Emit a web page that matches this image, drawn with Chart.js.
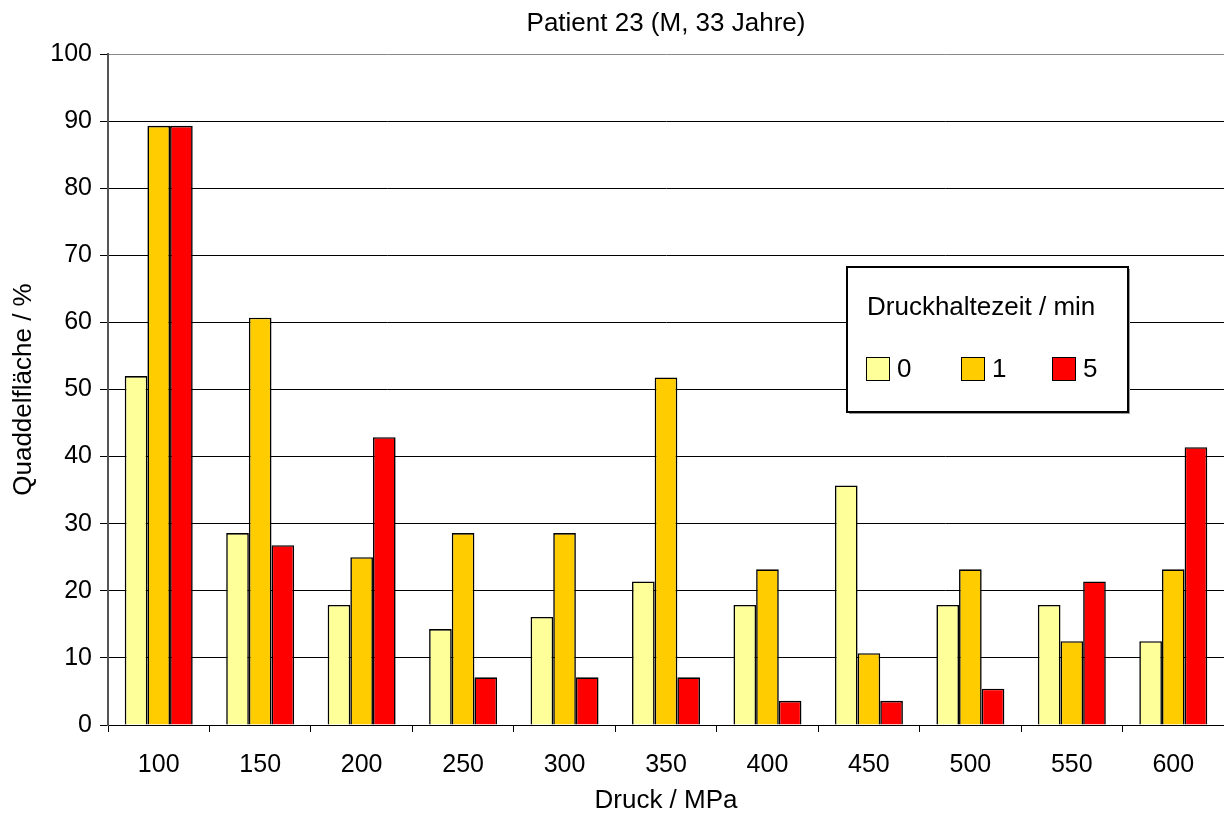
<!DOCTYPE html>
<html>
<head>
<meta charset="utf-8">
<script src="https://cdn.jsdelivr.net/npm/chart.js@4/dist/chart.umd.min.js"></script>
<style>
html,body{margin:0;padding:0;background:#fff;}
#wrap{width:1224px;height:814px;position:relative;}
</style>
</head>
<body>
<div id="wrap"><canvas id="c" width="1224" height="814"></canvas></div>
<script>
const categories = ['100','150','200','250','300','350','400','450','500','550','600'];
const series0 = [52.0, 28.6, 17.9, 14.3, 16.1, 21.4, 17.9, 35.7, 17.9, 17.9, 12.5];
const series1 = [89.3, 60.7, 25.0, 28.6, 28.6, 51.8, 23.2, 10.7, 23.2, 12.5, 23.2];
const series5 = [89.3, 26.8, 42.9, 7.1, 7.1, 7.1, 3.6, 3.6, 5.4, 21.4, 41.4];
const seriesLabels = ['0', '1', '5'];
const legendTitle = 'Druckhaltezeit / min';
const chartTitle = 'Patient 23 (M, 33 Jahre)';
const xTitle = 'Druck / MPa';
const yTitle = 'Quaddelfläche / %';

const FONT = "'Liberation Sans', Arial, sans-serif";
const colors = ['#FFFF99', '#FFCC00', '#FF0000'];

const bgPlugin = {
  id: 'bg',
  beforeDraw(chart) {
    const ctx = chart.ctx;
    ctx.save();
    ctx.fillStyle = '#fff';
    ctx.fillRect(0, 0, chart.width, chart.height);
    ctx.restore();
  }
};

const plotTitle = {
  id: 'plotTitle',
  afterDraw(chart) {
    const ctx = chart.ctx;
    const a = chart.chartArea;
    ctx.save();
    ctx.fillStyle = '#000';
    ctx.font = '26px ' + FONT;
    ctx.textAlign = 'center';
    ctx.textBaseline = 'middle';
    ctx.fillText(chartTitle, (a.left + a.right) / 2, 24);
    ctx.restore();
  }
};

const boxLegend = {
  id: 'boxLegend',
  afterDraw(chart) {
    const ctx = chart.ctx;
    const x = 847, y = 267, w = 281, h = 145;
    ctx.save();
    ctx.fillStyle = '#9a9a9a';
    ctx.fillRect(x + 2, y + 2, w, h);
    ctx.fillStyle = '#fff';
    ctx.fillRect(x, y, w, h);
    ctx.strokeStyle = '#000';
    ctx.lineWidth = 2;
    ctx.strokeRect(x, y, w, h);
    ctx.fillStyle = '#000';
    ctx.font = '26px ' + FONT;
    ctx.textBaseline = 'middle';
    ctx.textAlign = 'left';
    ctx.fillText(legendTitle, 867, 308);
    const itemX = [866, 961, 1052];
    chart.data.datasets.forEach((ds, i) => {
      const sx = itemX[i];
      ctx.fillStyle = ds.backgroundColor;
      ctx.fillRect(sx, 357, 23, 23);
      ctx.strokeStyle = '#000';
      ctx.lineWidth = 1;
      ctx.strokeRect(sx + 0.5, 357.5, 23, 23);
      ctx.fillStyle = '#000';
      ctx.fillText(ds.label, sx + 31, 370);
    });
    ctx.restore();
  }
};

new Chart(document.getElementById('c'), {
  type: 'bar',
  data: {
    labels: categories,
    datasets: [
      { label: seriesLabels[0], data: series0, backgroundColor: colors[0], borderColor: '#000', borderWidth: 1.6 },
      { label: seriesLabels[1], data: series1, backgroundColor: colors[1], borderColor: '#000', borderWidth: 1.6 },
      { label: seriesLabels[2], data: series5, backgroundColor: colors[2], borderColor: '#000', borderWidth: 1.6 }
    ]
  },
  options: {
    responsive: false,
    animation: false,
    devicePixelRatio: 1,
    layout: { padding: { left: 0, right: 0, top: 54, bottom: 0 } },
    datasets: { bar: { categoryPercentage: 0.67, barPercentage: 1.0 } },
    plugins: {
      legend: { display: false },
      tooltip: { enabled: false },
      title: { display: false }
    },
    scales: {
      x: {
        offset: true,
        grid: { display: true, drawOnChartArea: false, drawTicks: true, tickLength: 7, tickColor: '#000', offset: true },
        border: { display: true, color: '#000', width: 1 },
        ticks: { color: '#000', font: { family: FONT, size: 25 }, padding: 18, maxRotation: 0, autoSkip: false },
        title: { display: true, text: xTitle, color: '#000', font: { family: FONT, size: 26, lineHeight: 1.0 }, padding: { top: 0, bottom: 0 } },
        afterFit(scale) { scale.height = 89; }
      },
      y: {
        min: 0, max: 100,
        ticks: { stepSize: 10, color: '#000', font: { family: FONT, size: 25 }, padding: 8 },
        grid: {
          color: (c) => (c.tick && c.tick.value === 100) ? '#888' : '#000',
          lineWidth: 1, drawTicks: true, tickLength: 8, tickColor: '#000'
        },
        border: { display: true, color: '#555', width: 2 },
        title: { display: true, text: yTitle, color: '#000', font: { family: FONT, size: 26, lineHeight: 1.2 }, padding: { top: 8, bottom: 0 } },
        afterFit(scale) { scale.width = 108; }
      }
    }
  },
  plugins: [bgPlugin, plotTitle, boxLegend]
});
</script>
</body>
</html>
